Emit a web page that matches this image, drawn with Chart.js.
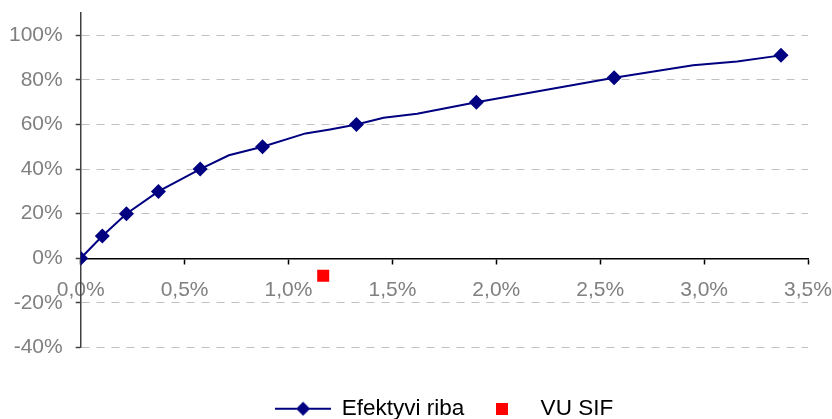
<!DOCTYPE html>
<html>
<head>
  <title>Efektyvi riba</title>
  <script src="https://cdn.jsdelivr.net/npm/chart.js"></script>
  <style>
    html, body {
      margin: 0;
      padding: 0;
      background-color: #ffffff;
    }
    #wrap {
      width: 832px;
      height: 419px;
    }
  </style>
</head>
<body>
  <div id="wrap">
    <canvas id="riskChart" width="832" height="419"></canvas>
  </div>

  <script>
    // Efektyvi riba - taskai su zymekliais (rizika %, graza %)
    const frontierRisk = [0, 0.104, 0.22, 0.374, 0.575, 0.875, 1.327, 1.904, 2.567, 3.37];
    const frontierReturn = [0, 10, 20, 30, 40, 50, 60, 70, 81, 91];
    // tarpiniai linijos taskai be zymekliu
    const bendRisk = [0.713, 1.082, 1.2, 1.458, 1.619, 2.947, 3.159];
    const bendReturn = [46.2, 56, 57.8, 63, 64.8, 86.6, 88.3];
    // VU SIF portfelis
    const sifRisk = [1.167];
    const sifReturn = [-7.8];

    const xTicks = [0, 0.5, 1, 1.5, 2, 2.5, 3, 3.5];
    const yTicks = [-40, -20, 0, 20, 40, 60, 80, 100];

    const navy = '#000080';
    const red = '#ff0000';

    const frontierPoints = frontierRisk.map((x, i) => ({ x: x, y: frontierReturn[i], marked: true }))
      .concat(bendRisk.map((x, i) => ({ x: x, y: bendReturn[i], marked: false })))
      .sort((a, b) => a.x - b.x);
    const sifPoints = sifRisk.map((x, i) => ({ x: x, y: sifReturn[i] }));

    // legend icons: line with diamond, red square
    function lineDiamondIcon() {
      const c = document.createElement('canvas');
      c.width = 56; c.height = 16;
      const g = c.getContext('2d');
      g.strokeStyle = navy;
      g.lineWidth = 2;
      g.beginPath();
      g.moveTo(0, 8);
      g.lineTo(56, 8);
      g.stroke();
      g.fillStyle = navy;
      g.beginPath();
      g.moveTo(28, 1);
      g.lineTo(35, 8);
      g.lineTo(28, 15);
      g.lineTo(21, 8);
      g.closePath();
      g.fill();
      return c;
    }
    function squareIcon() {
      const c = document.createElement('canvas');
      c.width = 12; c.height = 12;
      const g = c.getContext('2d');
      g.fillStyle = red;
      g.fillRect(0, 0, 12, 12);
      return c;
    }
    const legendIcons = [lineDiamondIcon(), squareIcon()];

    const fmt = (v, d) => v.toFixed(d).replace('.', ',') + '%';

    // axis labels should not push the plot area inwards
    const noEdgePadding = axis => {
      axis.paddingTop = 0;
      axis.paddingBottom = 0;
      axis.paddingLeft = 0;
      axis.paddingRight = 0;
    };

    new Chart(document.getElementById('riskChart'), {
      type: 'scatter',
      data: {
        datasets: [
          {
            label: 'Efektyvi riba',
            data: frontierPoints,
            showLine: true,
            borderColor: navy,
            borderWidth: 2,
            backgroundColor: navy,
            pointStyle: 'rectRot',
            pointRadius: ctx => (ctx.raw && ctx.raw.marked ? 7.5 : 0),
            pointBorderWidth: 0,
            tension: 0
          },
          {
            label: 'VU SIF',
            data: sifPoints,
            showLine: false,
            backgroundColor: red,
            borderColor: red,
            pointStyle: 'rect',
            pointRadius: 8.5,
            pointBorderWidth: 0
          }
        ]
      },
      options: {
        responsive: false,
        animation: false,
        layout: { padding: { top: 13, left: -4, right: 24, bottom: -11 } },
        plugins: {
          tooltip: { enabled: false },
          legend: {
            position: 'bottom',
            fullSize: false,
            title: {
              display: true,
              text: ' ',
              font: { size: 10 },
              padding: { top: 0, bottom: 28 }
            },
            labels: {
              usePointStyle: true,
              pointStyleWidth: 55,
              padding: 10,
              color: '#000000',
              font: { family: "'Liberation Sans', Arial, sans-serif", size: 22.5 },
              generateLabels: chart => chart.data.datasets.map((ds, i) => ({
                text: ds.label,
                pointStyle: legendIcons[i],
                datasetIndex: i,
                fillStyle: 'transparent',
                strokeStyle: 'transparent',
                lineWidth: 0,
                fontColor: '#000000',
                hidden: false
              }))
            }
          }
        },
        scales: {
          x: {
            type: 'linear',
            position: { y: 0 },
            min: xTicks[0],
            max: xTicks[xTicks.length - 1],
            afterBuildTicks: axis => { axis.ticks = xTicks.map(v => ({ value: v })); },
            afterFit: noEdgePadding,
            ticks: {
              color: '#808080',
              padding: 14,
              maxRotation: 0,
              font: { family: "'Liberation Sans', Arial, sans-serif", size: 21 },
              callback: v => fmt(v, 1)
            },
            grid: {
              drawOnChartArea: false,
              tickLength: 5,
              tickColor: '#000000',
              tickWidth: 1.5
            },
            border: { color: '#000000', width: 1.5 }
          },
          y: {
            type: 'linear',
            position: 'left',
            min: -40,
            max: 110,
            afterBuildTicks: axis => { axis.ticks = yTicks.map(v => ({ value: v })); },
            afterFit: noEdgePadding,
            ticks: {
              color: '#808080',
              padding: 13,
              font: { family: "'Liberation Sans', Arial, sans-serif", size: 21 },
              callback: v => fmt(v, 0)
            },
            grid: {
              color: '#c0c0c0',
              lineWidth: 1,
              tickLength: 5,
              tickColor: '#404040',
              tickBorderDash: [],
              tickWidth: 1.5
            },
            border: { color: '#404040', width: 1.5, dash: [8, 7] }
          }
        }
      }
    });
  </script>
</body>
</html>
